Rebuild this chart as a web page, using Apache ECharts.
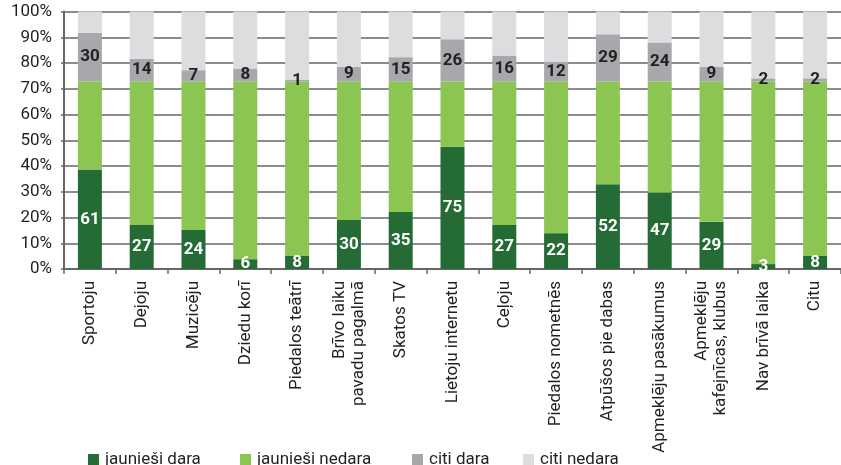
<!DOCTYPE html>
<html>
<head>
<meta charset="utf-8">
<script src="https://cdn.jsdelivr.net/npm/echarts@6/dist/echarts.min.js"></script>
<style>
html,body{margin:0;padding:0;background:#fff;}
#chart{width:841px;height:465px;}
</style>
</head>
<body>
<div id="chart"></div>
<script>
const categories = ["Sportoju","Dejoju","Muzicēju","Dziedu korī","Piedalos teātrī","Brīvo laiku\npavadu pagalmā","Skatos TV","Lietoju internetu","Ceļoju","Piedalos nometnēs","Atpūšos pie dabas","Apmeklēju pasākumus","Apmeklēju\nkafejnīcas, klubus","Nav brīvā laika","Citu"];
const jauniesiDara   = [61,27,24,6,8,30,35,75,27,22,52,47,29,3,8];
const jauniesiNedara = [54,88,91,109,107,85,80,40,88,93,63,68,86,112,107];
const citiDara       = [30,14,7,8,1,9,15,26,16,12,29,24,9,2,2];
const citiNedara     = [13,29,36,35,42,34,28,17,27,31,14,19,34,41,41];
const seriesNames = ["jaunieši dara","jaunieši nedara","citi dara","citi nedara"];
const yTicks = [0,10,20,30,40,50,60,70,80,90,100];

const raw = [jauniesiDara, jauniesiNedara, citiDara, citiNedara];
const totals = categories.map((_, i) => raw.reduce((s, a) => s + a[i], 0));
const pct = raw.map(a => a.map((v, i) => v / totals[i] * 100));

const colors = ['#256b35', '#8bc653', '#a7a8ab', '#dcdddf'];
const FONT = 'Roboto';

const labelCfg = [
  {show:true, position:'inside', color:'#ffffff', fontWeight:'bold', fontSize:17, fontFamily:FONT,
   formatter: p => String(jauniesiDara[p.dataIndex])},
  {show:false},
  {show:true, position:'inside', color:'#231f20', fontWeight:'bold', fontSize:17, fontFamily:FONT,
   formatter: p => String(citiDara[p.dataIndex])},
  {show:false}
];

const series = seriesNames.map((n, k) => ({
  name: n, type: 'bar', stack: 'all', barWidth: 24,
  itemStyle: {color: colors[k]},
  label: labelCfg[k],
  data: pct[k]
}));

const legendLeft = [83, 235, 407, 518];
const legends = seriesNames.map((n, k) => ({
  data: [n], left: legendLeft[k], top: 446, icon: 'rect',
  itemWidth: 11, itemHeight: 11, itemGap: 0,
  textStyle: {fontFamily: FONT, fontSize: 17, color: '#231f20', padding: [0,0,0,1]},
  selectedMode: false
}));

const chart = echarts.init(document.getElementById('chart'), null, {renderer:'canvas'});
chart.setOption({
  animation: false,
  backgroundColor: '#ffffff',
  textStyle: {fontFamily: FONT},
  grid: {left: 64, top: 11.5, width: 780, height: 257.5, containLabel: false},
  legend: legends,
  xAxis: {
    type: 'category', data: categories, boundaryGap: true,
    axisLine: {show: true, lineStyle: {color: '#666666', width: 2}},
    axisTick: {show: true, length: 5, lineStyle: {color: '#666666', width: 1.5}},
    axisLabel: {rotate: 90, interval: 0, fontFamily: FONT, fontSize: 17, color: '#231f20', margin: 12, lineHeight: 19}
  },
  yAxis: {
    type: 'value', min: yTicks[0], max: yTicks[yTicks.length-1], interval: 10,
    axisLine: {show: true, lineStyle: {color: '#666666', width: 2}},
    axisTick: {show: true, length: 3, lineStyle: {color: '#666666', width: 1.5}},
    splitLine: {show: true, lineStyle: {color: '#666666', width: 1.6}},
    axisLabel: {formatter: '{value}%', fontFamily: FONT, fontSize: 17, color: '#231f20', margin: 12}
  },
  series: series
});
</script>
</body>
</html>
